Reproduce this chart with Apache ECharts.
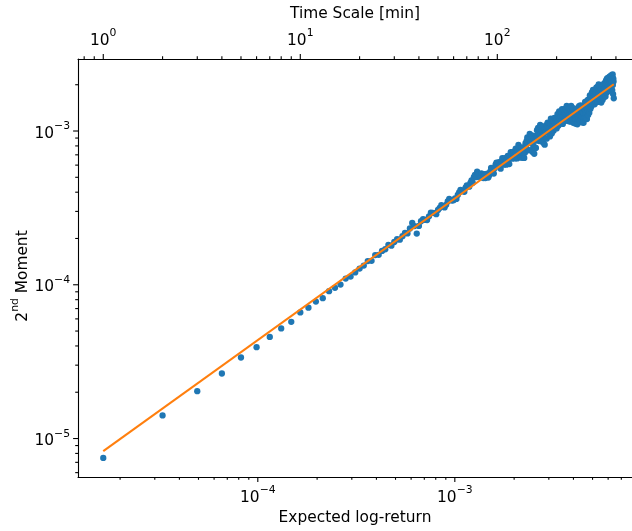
<!DOCTYPE html>
<html><head><meta charset="utf-8">
<script src="https://cdn.jsdelivr.net/npm/echarts@6.0.0/dist/echarts.min.js"></script>
<style>html,body{margin:0;padding:0;background:#fff}#c{width:632px;height:531px}</style>
</head><body><div id="c"></div>
<script>
// Time scales (minutes) for each point
const timeScales = [1,2,3,4,5,6,7,8,9,10,11,12,13,14,15,16,17,18,19,20,21,22,23,24,25,26,27,28,29,30,
31,32,33,34,35,36,37,38,39,40,41,42,43,44,45,46,47,48,49,50,51,52,53,54,55,56,57,58,59,60,
61,62,63,64,65,66,67,68,69,70,71,72,73,74,75,76,77,78,79,80,81,82,83,84,85,86,87,88,89,90,
91,92,93,94,95,96,97,98,99,100,101,102,103,104,105,106,107,108,109,110,111,112,113,114,115,116,117,118,119,120,
121,122,123,124,125,126,127,128,129,130,131,132,133,134,135,136,137,138,139,140,141,142,143,144,145,146,147,148,149,150,
151,152,153,154,155,156,157,158,159,160,161,162,163,164,165,166,167,168,169,170,171,172,173,174,175,176,177,178,179,180,
181,182,183,184,185,186,187,188,189,190,191,192,193,194,195,196,197,198,199,200,201,202,203,204,205,206,207,208,209,210,
211,212,213,214,215,216,217,218,219,220,221,222,223,224,225,226,227,228,229,230,231,232,233,234,235,236,237,238,239,240,
241,242,243,244,245,246,247,248,249,250,251,252,253,254,255,256,257,258,259,260,261,262,263,264,265,266,267,268,269,270,
271,272,273,274,275,276,277,278,279,280,281,282,283,284,285,286,287,288,289,290,291,292,293,294,295,296,297,298,299,300,
301,302,303,304,305,306,307,308,309,310,311,312,313,314,315,316,317,318,319,320,321,322,323,324,325,326,327,328,329,330,
331,332,333,334,335,336,337,338,339,340,341,342,343,344,345,346,347,348,349,350,351,352,353,354,355,356,357,358,359,360,
361,362,363,364,365,366,367,368,369,370,371,372,373,374,375,376,377,378,379,380,381,382,383,384,385,386,387,388,389,390];

// Expected log-return per minute (bottom axis value = this * time scale)
const meanLogReturnPerMinute = 1.643e-5;

// 2nd moment, stored as log10 values
const secondMomentLog10 = [
-5.126,-4.850,-4.692,-4.577,-4.473,-4.406,-4.339,-4.284,-4.241,-4.180,
-4.149,-4.109,-4.087,-4.042,-4.020,-3.999,-3.960,-3.947,-3.920,-3.895,
-3.875,-3.846,-3.844,-3.807,-3.805,-3.780,-3.769,-3.740,-3.746,-3.722,
-3.704,-3.707,-3.684,-3.662,-3.666,-3.634,-3.598,-3.618,-3.667,-3.617,
-3.587,-3.573,-3.578,-3.579,-3.555,-3.531,-3.533,-3.534,-3.541,-3.513,
-3.500,-3.482,-3.490,-3.497,-3.480,-3.458,-3.441,-3.449,-3.452,-3.450,
-3.438,-3.442,-3.416,-3.399,-3.383,-3.387,-3.391,-3.395,-3.369,-3.353,
-3.358,-3.362,-3.337,-3.321,-3.336,-3.300,-3.285,-3.300,-3.265,-3.280,
-3.295,-3.300,-3.275,-3.300,-3.306,-3.281,-3.306,-3.292,-3.277,-3.303,
-3.288,-3.264,-3.240,-3.245,-3.261,-3.277,-3.243,-3.219,-3.205,-3.221,
-3.227,-3.203,-3.229,-3.245,-3.201,-3.177,-3.203,-3.219,-3.176,-3.202,
-3.219,-3.185,-3.162,-3.188,-3.215,-3.161,-3.137,-3.164,-3.180,-3.147,
-3.134,-3.161,-3.178,-3.115,-3.141,-3.178,-3.125,-3.091,-3.138,-3.155,
-3.173,-3.140,-3.107,-3.174,-3.141,-3.108,-3.175,-3.142,-3.079,-3.106,
-3.063,-3.041,-3.078,-3.125,-3.042,-3.019,-3.077,-3.124,-3.051,-3.028,
-3.136,-3.093,-3.051,-3.148,-3.106,-3.063,-3.110,-3.028,-2.995,-3.043,
-2.980,-3.018,-3.065,-2.993,-2.960,-3.018,-3.065,-2.993,-2.970,-3.028,
-3.076,-3.044,-2.992,-3.089,-3.047,-3.005,-2.962,-3.050,-2.988,-2.946,
-2.973,-3.011,-2.949,-2.977,-3.035,-2.952,-2.920,-2.988,-3.016,-2.954,
-2.932,-2.970,-2.998,-2.936,-2.914,-2.951,-2.979,-2.917,-2.935,-2.983,
-2.922,-2.890,-2.938,-2.966,-2.904,-2.872,-2.920,-2.948,-2.886,-2.904,
-2.932,-2.880,-2.858,-2.906,-2.954,-2.883,-2.861,-2.909,-2.937,-2.885,
-2.854,-2.892,-2.920,-2.868,-2.836,-2.895,-2.933,-2.871,-2.849,-2.897,
-2.936,-2.884,-2.852,-2.901,-2.939,-2.867,-2.836,-2.884,-2.912,-2.851,
-2.869,-2.917,-2.946,-2.884,-2.853,-2.901,-2.949,-2.918,-2.866,-2.925,
-2.953,-2.901,-2.859,-2.918,-2.956,-2.904,-2.863,-2.921,-2.880,-2.838,
-2.897,-2.936,-2.874,-2.833,-2.901,-2.940,-2.878,-2.837,-2.905,-2.944,
-2.882,-2.840,-2.909,-2.947,-2.886,-2.844,-2.913,-2.861,-2.810,-2.888,
-2.917,-2.866,-2.815,-2.883,-2.922,-2.850,-2.799,-2.868,-2.896,-2.835,
-2.794,-2.842,-2.881,-2.799,-2.768,-2.827,-2.855,-2.774,-2.802,-2.841,
-2.770,-2.749,-2.797,-2.826,-2.755,-2.733,-2.782,-2.811,-2.759,-2.738,
-2.787,-2.826,-2.764,-2.733,-2.772,-2.810,-2.749,-2.718,-2.757,-2.795,
-2.734,-2.713,-2.772,-2.811,-2.749,-2.718,-2.697,-2.756,-2.795,-2.733,
-2.712,-2.761,-2.810,-2.778,-2.727,-2.766,-2.815,-2.784,-2.732,-2.711,
-2.760,-2.799,-2.738,-2.706,-2.745,-2.784,-2.723,-2.692,-2.730,-2.769,
-2.719,-2.687,-2.736,-2.775,-2.704,-2.673,-2.722,-2.751,-2.690,-2.659,
-2.697,-2.726,-2.675,-2.654,-2.703,-2.742,-2.681,-2.660,-2.708,-2.667,
-2.646,-2.675,-2.714,-2.653,-2.682,-2.721,-2.660,-2.639,-2.688,-2.667,
-2.646,-2.685,-2.734,-2.653,-2.632,-2.701,-2.760,-2.659,-2.678,-2.787];

// Power-law fit line (end points)
const fitTimeScales = [1, 390];
const fitSecondMoment = [8.27e-6, 2.014e-3];

// Axis ranges
const xRange = [1.2229e-5, 7.93e-3];
const yRange = [5.62e-6, 2.94e-3];
const tRange = [xRange[0] / meanLogReturnPerMinute, xRange[1] / meanLogReturnPerMinute];

// Tick values
const bottomMajorTicks = [1e-4, 1e-3];
const bottomMinorTicks = [2e-5,3e-5,4e-5,5e-5,6e-5,7e-5,8e-5,9e-5,2e-4,3e-4,4e-4,5e-4,6e-4,7e-4,8e-4,9e-4,2e-3,3e-3,4e-3,5e-3,6e-3,7e-3];
const topMajorTicks = [1, 10, 100];
const topMinorTicks = [0.8,0.9,2,3,4,5,6,7,8,9,20,30,40,50,60,70,80,90,200,300,400];
const leftMajorTicks = [1e-5, 1e-4, 1e-3];
const leftMinorTicks = [6e-6,7e-6,8e-6,9e-6,2e-5,3e-5,4e-5,5e-5,6e-5,7e-5,8e-5,9e-5,2e-4,3e-4,4e-4,5e-4,6e-4,7e-4,8e-4,9e-4,2e-3];

const FONT = 'DejaVu Sans';
const FS = 15.4, FS_SUP = 10.8;
const rich = {
  b: {fontSize: FS, lineHeight: 20, verticalAlign: 'bottom', color: '#000', fontFamily: FONT},
  sup: {fontSize: FS_SUP, lineHeight: 11, verticalAlign: 'top', color: '#000', fontFamily: FONT}
};
function powLabel(v) {
  const e = Math.round(Math.log10(v));
  const s = e < 0 ? '\u2212' + (-e) : String(e);
  return '{b|10}{sup|' + s + '}';
}

const scatterData = timeScales.map((t, i) => [t * meanLogReturnPerMinute, Math.pow(10, secondMomentLog10[i])]);
const fitData = fitTimeScales.map((t, i) => [t * meanLogReturnPerMinute, fitSecondMoment[i]]);

const MAJ = 4.9, MIN = 2.8;
function renderTicks(params, api) {
  if (params.dataIndex !== 0) return null;
  const bl = api.coord([xRange[0], yRange[0]]);
  const tr = api.coord([xRange[1], yRange[1]]);
  const left = bl[0], bottom = bl[1], top = tr[1];
  const ch = [];
  const add = (x1, y1, x2, y2) => ch.push({type: 'line', shape: {x1, y1, x2, y2}, style: {stroke: '#000', lineWidth: 1.1}});
  const inX = v => v >= xRange[0] && v <= xRange[1];
  const inY = v => v >= yRange[0] && v <= yRange[1];
  bottomMajorTicks.filter(inX).forEach(v => { const p = api.coord([v, yRange[0]])[0]; add(p, bottom, p, bottom + MAJ); });
  bottomMinorTicks.filter(inX).forEach(v => { const p = api.coord([v, yRange[0]])[0]; add(p, bottom, p, bottom + MIN); });
  topMajorTicks.map(t => t * meanLogReturnPerMinute).filter(inX).forEach(v => { const p = api.coord([v, yRange[0]])[0]; add(p, top, p, top - MAJ); });
  topMinorTicks.map(t => t * meanLogReturnPerMinute).filter(inX).forEach(v => { const p = api.coord([v, yRange[0]])[0]; add(p, top, p, top - MIN); });
  leftMajorTicks.filter(inY).forEach(v => { const p = api.coord([xRange[0], v])[1]; add(left, p, left - MAJ, p); });
  leftMinorTicks.filter(inY).forEach(v => { const p = api.coord([xRange[0], v])[1]; add(left, p, left - MIN, p); });
  return {type: 'group', children: ch};
}

const axisCommon = {
  type: 'log', logBase: 10,
  axisLine: {show: true, onZero: false, lineStyle: {color: '#000', width: 1.1}},
  axisTick: {show: false}, minorTick: {show: false}, splitLine: {show: false},
  axisLabel: {formatter: powLabel, rich: rich, margin: 8, color: '#000', fontFamily: FONT, fontSize: FS, showMinLabel: false, showMaxLabel: false},
  nameLocation: 'middle',
  nameMoveOverlap: false,
  nameTextStyle: {fontSize: FS, color: '#000', fontFamily: FONT}
};

const chart = echarts.init(document.getElementById('c'), null, {renderer: 'canvas'});
chart.setOption({
  animation: false,
  backgroundColor: '#fff',
  textStyle: {fontFamily: FONT},
  grid: {left: 78, right: 0, top: 59, bottom: 54, containLabel: false, outerBoundsMode: 'none'},
  xAxis: [
    Object.assign({}, axisCommon, {position: 'bottom', min: xRange[0], max: xRange[1], name: 'Expected log-return', nameGap: 33}),
    Object.assign({}, axisCommon, {position: 'top', min: tRange[0], max: tRange[1], name: 'Time Scale [min]', nameGap: 38,
      axisLabel: Object.assign({}, axisCommon.axisLabel, {margin: 11})})
  ],
  yAxis: [
    Object.assign({}, axisCommon, {position: 'left', min: yRange[0], max: yRange[1], name: '{b|2}{sup|nd}{b| Moment}', nameGap: 48, nameRotate: 90,
      nameTextStyle: {fontSize: FS, color: '#000', fontFamily: FONT, rich: rich, padding: [0, 16, 0, 0]}})
  ],
  series: [
    {type: 'scatter', xAxisIndex: 0, yAxisIndex: 0, data: scatterData, symbol: 'circle', symbolSize: 6.3,
     itemStyle: {color: '#1f77b4', opacity: 1}, z: 2, silent: true},
    {type: 'line', xAxisIndex: 0, yAxisIndex: 0, data: fitData, showSymbol: false, symbol: 'none',
     lineStyle: {color: '#ff7f0e', width: 2.1}, z: 3, silent: true},
    {type: 'custom', xAxisIndex: 0, yAxisIndex: 0, data: [[xRange[0], yRange[0]]], renderItem: renderTicks, clip: false, z: 4, silent: true}
  ]
});
</script></body></html>
